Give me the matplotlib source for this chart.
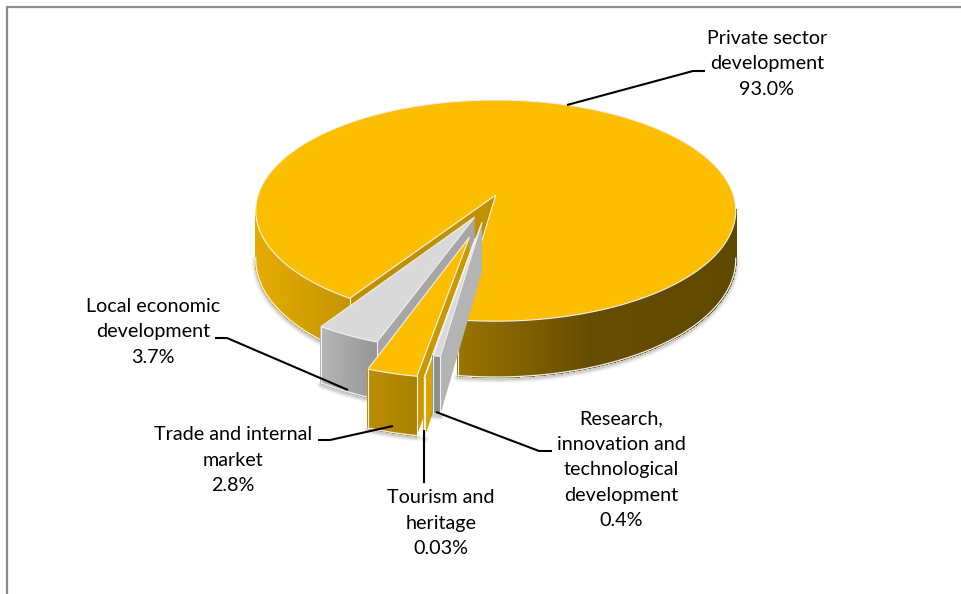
import numpy as np
import matplotlib
matplotlib.use('Agg')
import matplotlib.pyplot as plt
from matplotlib.colors import to_rgb

# 数据（顺时针，从 start_angle 开始）
categories = ['Research,\ninnovation and\ntechnological\ndevelopment',
              'Tourism and\nheritage',
              'Trade and internal\nmarket',
              'Local economic\ndevelopment',
              'Private sector\ndevelopment']
shares = [0.4, 0.03, 2.8, 3.7, 93.0]
share_labels = ['0.4%', '0.03%', '2.8%', '3.7%', '93.0%']

# 样式
start_angle = 97.9
explode = [0.153, 0.29, 0.288, 0.12, 0.095]
top_colors = ['#d9d9d9', '#fdbe00', '#fdbe00', '#d9d9d9', '#fdbe00']
cut_colors = ['#b4b4b4', '#d8a400', '#c89a00', '#a6a6a6', '#bf9000']
wall_stops = [
    [(430, '#8c8c8c'), (445, '#909090')],
    [(415, '#dba600'), (430, '#d8a400')],
    [(365, '#ba8d00'), (420, '#a88000')],
    [(315, '#b8b8b8'), (375, '#969696')],
    [(256, '#e4ac00'), (349, '#c49400'), (458, '#9a7400'), (590, '#654d00'), (735, '#604a00')],
]
label_pos = [(621, 470), (441, 523), (233, 460), (153, 332), (767, 64)]
leaders = [
    [(436, 412), (539, 451), (552, 451)],
    [(424, 430), (424, 483)],
    [(393, 426), (330, 440), (318, 440)],
    [(348, 390), (227, 338), (215, 338)],
    [(567, 105), (693, 71), (705, 71)],
]
edge = '#f0f0f0'


def project(x, y, z=0.0):
    # 带一点透视的投影，前面比后面大
    w = 1 / (1 - 0.14 * y)
    return 495 + 237.6 * x * w, 195 + 108.4 * y * w + 48 * z * w


def stop_color(px, stops):
    xs = [s[0] for s in stops]
    rgb = np.array([to_rgb(s[1]) for s in stops])
    return [np.interp(px, xs, rgb[:, i]) for i in range(3)]


def draw_slice(ax, a0, a1, off, top, cut, stops, z):
    cx = -0.03 + off * np.cos(np.radians((a0 + a1) / 2))
    cy = 0.09 + off * np.sin(np.radians((a0 + a1) / 2))
    t = np.radians(np.linspace(a0, a1, max(int((a1 - a0) * 2), 2) + 1))
    ex, ey = cx + np.cos(t), cy + np.sin(t)
    front = np.sin(t) > 0.12

    # 阴影
    bx, by = project(ex, ey, 1.0)
    for lw, alpha in [(6, 0.06), (4, 0.1), (2, 0.16)]:
        ax.plot(np.where(front, bx, np.nan), np.where(front, by + 2, np.nan),
                color='#555555', lw=lw, alpha=alpha, solid_capstyle='round', zorder=z)

    # 切面（只有 a0 这一面朝向观众）
    px0, py0 = project(cx, cy)
    px1, py1 = project(ex[0], ey[0])
    px2, py2 = project(ex[0], ey[0], 1.0)
    px3, py3 = project(cx, cy, 1.0)
    ax.fill([px0, px1, px2, px3], [py0, py1, py2, py3], color=cut, lw=0, zorder=z + 0.1)

    # 外侧弧面
    tx, ty = project(ex, ey)
    for i in range(len(t) - 1):
        if front[i] and front[i + 1]:
            c = stop_color((tx[i] + tx[i + 1]) / 2, stops)
            ax.fill([tx[i], tx[i + 1], bx[i + 1], bx[i]],
                    [ty[i], ty[i + 1], by[i + 1], by[i]],
                    facecolor=c, edgecolor=c, lw=0.8, antialiased=False, zorder=z + 0.2)
    ax.plot(np.where(front, bx, np.nan), np.where(front, by, np.nan), color=edge, lw=0.9,
            zorder=z + 0.3)
    for j in (0, -1):
        if front[j]:
            ax.plot([tx[j], bx[j]], [ty[j], by[j]], color=edge, lw=0.8, zorder=z + 0.3)

    # 顶面
    ax.fill(np.r_[px0, tx], np.r_[py0, ty], facecolor=top, edgecolor=edge, lw=0.8,
            joinstyle='miter', zorder=z + 0.4)


fig = plt.figure(figsize=(9.62, 5.94), dpi=100)
ax = fig.add_axes([0, 0, 1, 1])
ax.set_xlim(0, 962)
ax.set_ylim(594, 0)
ax.axis('off')

# 外框只有上边和左边
ax.plot([7, 7, 962], [594, 6.5, 6.5], color='#8c8c8c', lw=1.6, solid_joinstyle='miter')

scale = 360 / sum(shares)
ends = start_angle + np.cumsum(shares) * scale
starts = np.r_[start_angle, ends[:-1]]

# 从后往前画，Research 压在 Trade、Tourism 的切面上
for z, i in enumerate([4, 3, 2, 1, 0]):
    draw_slice(ax, starts[i], ends[i], explode[i], top_colors[i], cut_colors[i], wall_stops[i], 3 + z)

for line in leaders:
    xs, ys = zip(*line)
    ax.plot(xs, ys, color='black', lw=1.5, solid_capstyle='butt', zorder=10)

for name, pct, (x, y) in zip(categories, share_labels, label_pos):
    ax.text(x, y, name + '\n' + pct, ha='center', va='center', fontsize=14.2,
            family='Lato', color='black', linespacing=1.6)

fig.savefig('out.png', dpi=100)
